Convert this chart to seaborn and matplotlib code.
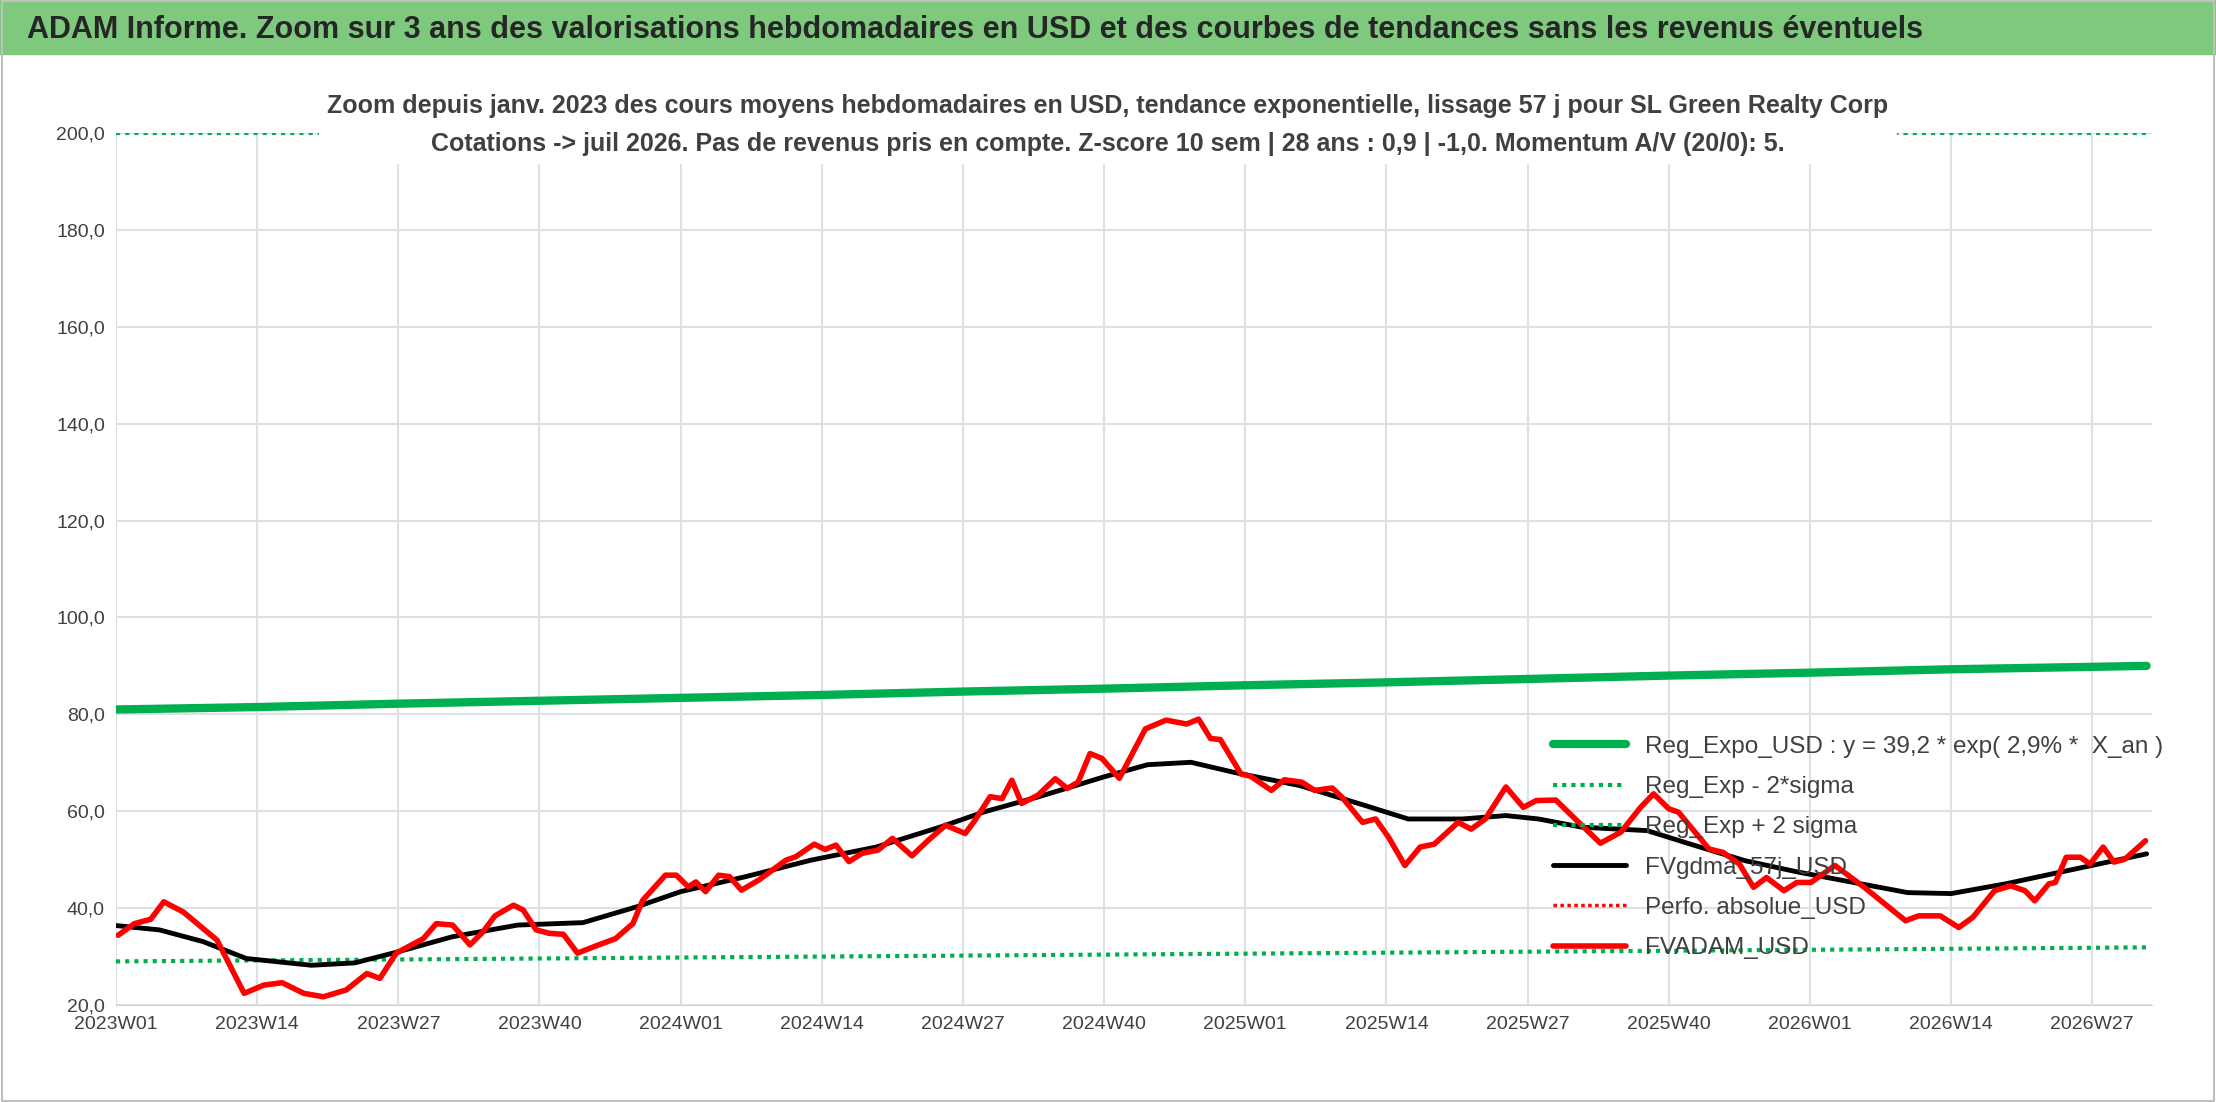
import matplotlib
matplotlib.use("Agg")
import matplotlib.pyplot as plt
import seaborn as sns
import pandas as pd

# weeks counted from 2023W01 (2023, 2024, 2025 have 52 ISO weeks)
tick_weeks = [0, 13, 26, 39, 52, 65, 78, 91, 104, 117, 130, 143, 156, 169, 182]
tick_labels = ["2023W01", "2023W14", "2023W27", "2023W40", "2024W01", "2024W14", "2024W27",
               "2024W40", "2025W01", "2025W14", "2025W27", "2025W40", "2026W01", "2026W14", "2026W27"]

reg_weeks = [0, 13, 26, 39, 52, 65, 78, 91, 104, 117, 130, 143, 156, 169, 187]
reg_expo = [81.0, 81.5, 82.2, 82.8, 83.4, 84.0, 84.7, 85.3, 86.0, 86.6, 87.3, 88.0, 88.6, 89.3, 90.0]
reg_low = [29.0, 29.2, 29.4, 29.6, 29.8, 30.0, 30.2, 30.4, 30.6, 30.8, 31.0, 31.2, 31.4, 31.6, 31.9]
reg_high = [200.0] * 15

# weekly average price (week position, value)
red_weeks = [0.2, 1.7, 3.2, 4.4, 6.2, 7.8, 9.3, 11.8, 13.6, 15.3, 17.3, 19.1, 21.2, 23.1, 24.3,
             25.8, 28.3, 29.5, 31.0, 32.6, 33.8, 34.9, 36.6, 37.5, 38.7, 39.9, 41.2, 42.5, 44.2,
             46.0, 47.6, 48.5, 50.6, 51.6, 52.7, 53.4, 54.3, 55.5, 56.5, 57.6, 59.2, 61.7, 62.6,
             64.3, 65.3, 66.3, 67.5, 68.7, 70.2, 71.5, 73.3, 74.8, 76.4, 78.2, 79.1, 80.5, 81.6,
             82.5, 83.4, 84.9, 86.5, 87.6, 88.6, 89.7, 90.8, 92.4, 94.8, 96.7, 98.6, 99.7, 100.8,
             101.7, 103.6, 104.5, 106.4, 107.6, 109.2, 110.4, 112.0, 112.9, 114.8, 116.0, 117.2,
             118.7, 120.1, 121.4, 123.6, 124.8, 126.1, 128.0, 129.6, 130.8, 132.6, 134.2, 136.7,
             138.6, 140.4, 141.6, 143.0, 143.9, 146.7, 148.0, 149.5, 150.8, 152.0, 153.6, 154.8,
             156.1, 158.3, 161.0, 164.8, 166.0, 168.0, 169.7, 171.0, 173.0, 174.5, 175.8, 176.7,
             178.0, 178.6, 179.6, 180.9, 181.8, 183.0, 184.0, 185.0, 186.9]
red_vals = [34.4, 36.8, 37.7, 41.3, 39.2, 36.2, 33.4, 22.4, 24.1, 24.6, 22.4, 21.7, 23.1, 26.5, 25.5,
            30.7, 33.7, 36.8, 36.5, 32.4, 35.1, 38.4, 40.6, 39.6, 35.5, 34.8, 34.6, 30.7, 32.2,
            33.7, 36.8, 41.6, 46.8, 46.8, 44.4, 45.4, 43.4, 46.8, 46.5, 43.7, 45.8, 49.9, 50.6,
            53.2, 52.1, 53.0, 49.6, 51.3, 52.0, 54.4, 50.8, 54.0, 57.1, 55.4, 58.1, 63.0, 62.6,
            66.4, 61.6, 63.3, 66.7, 64.7, 66.0, 71.9, 70.9, 66.8, 77.0, 78.8, 78.0, 79.0, 75.0,
            74.8, 67.7, 67.2, 64.3, 66.5, 66.0, 64.3, 64.8, 62.9, 57.7, 58.4, 54.6,
            48.8, 52.6, 53.2, 57.7, 56.3, 58.4, 65.0, 60.8, 62.2, 62.3, 58.8, 53.4,
            55.7, 60.8, 63.6, 60.5, 59.8, 52.2, 51.5, 49.1, 44.3, 46.3, 43.6, 45.3,
            45.3, 48.8, 44.3, 37.4, 38.4, 38.4, 36.0, 38.1, 43.6, 44.6, 43.6, 41.5,
            45.0, 45.3, 50.5, 50.5, 49.1, 52.6, 49.5, 50.1, 53.9]

black_weeks = [0, 4, 8, 12, 18, 22, 26, 31, 37, 43, 48, 52, 58, 64, 70, 76, 80, 85, 91, 95, 99,
               103, 109, 115, 119, 124, 128, 131, 135, 141, 145, 150, 155, 160, 165, 169, 174, 179, 187]
black_vals = [36.4, 35.5, 33.1, 29.6, 28.2, 28.7, 31.0, 34.1, 36.5, 37.0, 40.3, 43.4, 46.5, 49.9,
              52.6, 56.8, 59.9, 63.0, 67.1, 69.6, 70.1, 68.0, 65.3, 61.2, 58.4, 58.4, 59.1, 58.4,
              56.7, 56.0, 53.2, 49.8, 47.4, 45.3, 43.2, 43.0, 45.0, 47.4, 51.2]

reg_df = pd.DataFrame({"w": reg_weeks, "expo": reg_expo, "low": reg_low, "high": reg_high})
red_df = pd.DataFrame({"w": red_weeks, "v": red_vals})
black_df = pd.DataFrame({"w": black_weeks, "v": black_vals})

sns.set_style("white")
plt.rcParams["font.family"] = ["Liberation Sans", "DejaVu Sans"]

fig = plt.figure(figsize=(22.16, 11.02), dpi=100)
ax = fig.add_axes([116 / 2216, 1 - 1005 / 1102, (2152 - 116) / 2216, (1005 - 133) / 1102])

green = "#00b050"
sns.lineplot(data=reg_df, x="w", y="expo", ax=ax, color=green, lw=6,
             label="Reg_Expo_USD : y = 39,2 * exp( 2,9% *  X_an )")
sns.lineplot(data=reg_df, x="w", y="low", ax=ax, color=green, lw=3, ls=(0, (1, 1.2)),
             label="Reg_Exp - 2*sigma")
sns.lineplot(data=reg_df, x="w", y="high", ax=ax, color=green, lw=3, ls=(0, (1, 1.2)),
             label="Reg_Exp + 2 sigma")
sns.lineplot(data=black_df, x="w", y="v", ax=ax, color="black", lw=3.5, label="FVgdma_57j_USD")
ax.plot([], [], color="red", lw=2.5, ls=(0, (1, 1)), label="Perfo. absolue_USD")
sns.lineplot(data=red_df, x="w", y="v", ax=ax, color="red", lw=4, sort=False, label="FVADAM_USD")

ax.set_xlim(0, 187.5)
ax.set_ylim(20, 200)
ax.set_yticks(range(20, 201, 20))
ax.set_yticklabels([f"{v},0" for v in range(20, 201, 20)])
ax.set_xticks(tick_weeks)
ax.set_xticklabels(tick_labels)
ax.tick_params(labelsize=14, colors="#404040", length=0, pad=8)
ax.grid(True, color="#dde1e6", lw=1.5)
ax.set_xlabel("")
ax.set_ylabel("")
for s in ax.spines.values():
    s.set_visible(False)
ax.spines["bottom"].set_visible(True)
ax.spines["bottom"].set_color("#d0d4d8")

ax.legend(loc="upper left", bbox_to_anchor=(0.691, 0.352), bbox_transform=fig.transFigure,
          frameon=False, fontsize=17.5, handlelength=3.0, labelspacing=0.75, labelcolor="#404040")

# header band and subtitle
fig.patches.append(plt.Rectangle((0, 1 - 54 / 1102), 1, 54 / 1102, transform=fig.transFigure,
                                 color="#7fc97f", zorder=0))
fig.text(0.012, 1 - 30 / 1102, "ADAM Informe. Zoom sur 3 ans des valorisations hebdomadaires en USD "
         "et des courbes de tendances sans les revenus éventuels",
         fontsize=22, fontweight="bold", va="center", ha="left")
fig.text(0.5, 1 - 125 / 1102,
         "Zoom depuis janv. 2023 des cours moyens hebdomadaires en USD, tendance exponentielle, lissage 57 j pour SL Green Realty Corp\n"
         "Cotations -> juil 2026. Pas de revenus pris en compte. Z-score 10 sem | 28 ans : 0,9 | -1,0. Momentum A/V (20/0): 5.",
         fontsize=18, fontweight="bold", color="#404040", ha="center", va="center", linespacing=1.75,
         bbox=dict(facecolor="white", edgecolor="none", pad=6))
fig.patches.append(plt.Rectangle((0.001, 0.001), 0.998, 0.998, transform=fig.transFigure,
                                 fill=False, edgecolor="#bfbfbf", lw=1.5))

fig.savefig("out.png", dpi=100)
